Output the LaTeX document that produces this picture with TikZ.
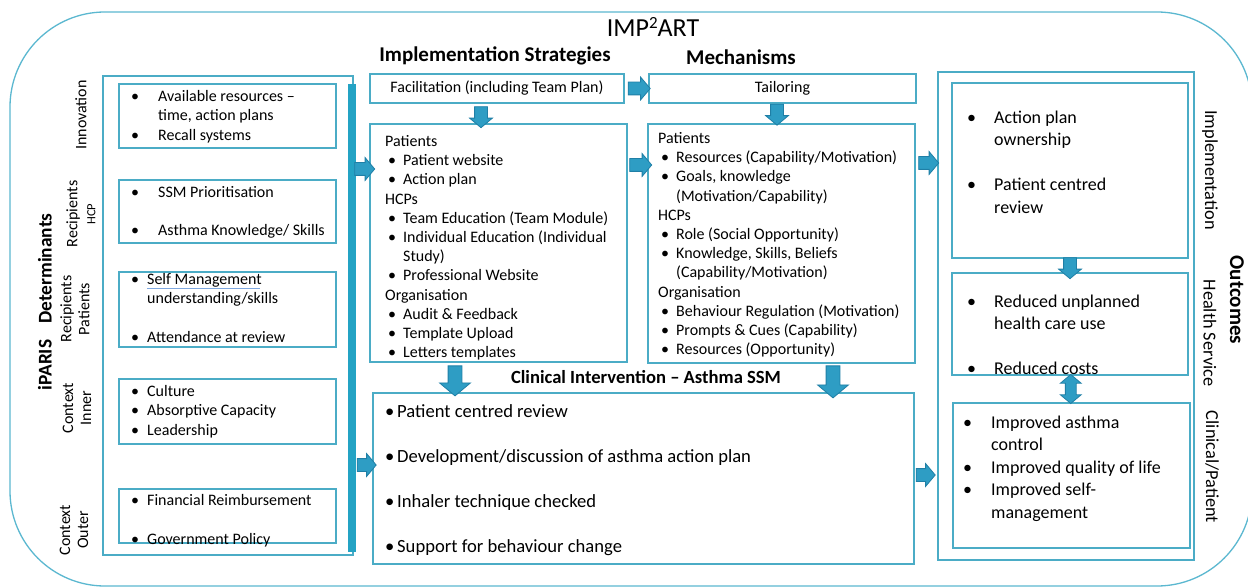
\documentclass[tikz,border=0pt]{standalone}
\usepackage{fontspec}
\setmainfont{Carlito}
\usetikzlibrary{shapes.arrows,fit,calc}
\definecolor{framec}{HTML}{5BB8D0}
\definecolor{boxc}{HTML}{4BACC6}
\definecolor{arrfill}{HTML}{2E9DC4}
\definecolor{arrdraw}{HTML}{1F7FA6}
\definecolor{barc}{HTML}{24A3C4}
\definecolor{spellc}{HTML}{7FA8E0}
\newcommand\bl[1]{\makebox[#1][l]{•}}
\newcommand\ibul{\hspace*{3pt}\makebox[15pt][l]{•}}
\begin{document}
\begin{tikzpicture}[x=1pt,y=-1pt,
  box/.style={draw=boxc,line width=1.3pt,inner sep=0pt},
  txt/.style={anchor=north west,align=left,inner sep=0pt,font=\fontsize{16}{19.2}\selectfont,execute at begin node={\rule{0pt}{0.75em}}},
  ctxt/.style={txt,font=\fontsize{18.6}{45}\selectfont},
  otxt/.style={txt,font=\fontsize{18}{22.5}\selectfont},
  head/.style={font=\bfseries\fontsize{21}{25}\selectfont,inner sep=0pt},
  lab/.style={rotate=90,align=center,inner sep=0pt,font=\fontsize{16}{18}\selectfont},
  rlab/.style={rotate=-90,align=center,inner sep=0pt,font=\fontsize{18.3}{21}\selectfont},
  barrow/.style={single arrow,draw=arrdraw,fill=arrfill,line width=0.8pt,inner sep=0pt,
    text height=6pt,text depth=6pt,text width=0pt,single arrow head extend=5pt,single arrow tip angle=100},
  bigarrow/.style={barrow,text height=6.5pt,text depth=6.5pt,single arrow head extend=8.5pt},
  darrow/.style={double arrow,draw=arrdraw,fill=arrfill,line width=0.8pt,inner sep=0pt,
    text height=5pt,text depth=5pt,text width=0pt,double arrow head extend=5pt,double arrow tip angle=100}
]
\useasboundingbox (0,0) rectangle (1248,588);
\fill[white] (0,0) rectangle (1248,588);
% outer frame
\draw[framec,line width=1.3pt,rounded corners=95pt] (10,12) rectangle (1252,586);
\node[font=\fontsize{26}{30}\selectfont,inner sep=0pt] (title) at (653,27) {IMP\raisebox{0.28em}{\fontsize{17}{20}\selectfont 2}ART};

% ---------- determinants ----------
\node[box,fit={(103,76) (353,555)}] (det) {};
\node[box,fit={(119,84) (336,148)}] (innov) {};
\node[box,fit={(119,180) (336,243)}] (rhcp) {};
\node[box,fit={(119,272) (336,347)}] (rpat) {};
\node[box,fit={(119,379) (336,444)}] (cinner) {};
\node[box,fit={(119,489) (336,543)}] (couter) {};
\node[fill=barc,inner sep=0pt,fit={(348,84) (356,552)}] (bar) {};

\node[txt] (tinnov) at (131,90.3) {\bl{27pt}Available resources –\\\hspace*{27pt}time, action plans\\\bl{27pt}Recall systems};
\node[txt] (trhcp) at (131,186.3) {\bl{27pt}SSM Prioritisation\\[19.2pt]\bl{27pt}Asthma Knowledge/ Skills};
\node[txt] (trpat) at (131,273.3) {\bl{16pt}Self Management\\\hspace*{16pt}understanding/skills\\[19.2pt]\bl{16pt}Attendance at review};
\draw[spellc,line width=1pt] (147,288) -- (260,288);
\node[txt] (tcinner) at (131,385.3) {\bl{16pt}Culture\\\bl{16pt}Absorptive Capacity\\\bl{16pt}Leadership};
\node[txt] (tcouter) at (131,494.3) {\bl{16pt}Financial Reimbursement\\[19.2pt]\bl{16pt}Government Policy};

\node[lab] (linnov) at (81,115) {Innovation};
\node[lab] (lrhcp) at (81,214) {Recipients\\{\fontsize{12.5}{15}\selectfont HCP}};
\node[lab] (lrpat) at (75,309) {Recipients\\Patients};
\node[lab] (lcinner) at (77,408) {Context\\Inner};
\node[lab] (lcouter) at (74,530) {Context\\Outer};
\node[lab,font=\bfseries\fontsize{19.4}{22}\selectfont] (ldet) at (45,302) {iPARIS\hspace{0.6em} Determinants};

% ---------- strategies & mechanisms ----------
\node[head] (hstrat) at (495,56) {Implementation Strategies};
\node[head] (hmech) at (741,57) {Mechanisms};
\node[box,fit={(370,74) (624,103)}] (facil) {};
\node[font=\fontsize{16}{19}\selectfont,inner sep=0pt] (tfacil) at (facil.center) {Facilitation (including Team Plan)};
\node[box,fit={(649,74) (916,103)}] (tail) {};
\node[font=\fontsize{16}{19}\selectfont,inner sep=0pt] (ttail) at (tail.center) {Tailoring};

\node[box,fit={(370,124) (627,362)}] (strat) {};
\node[txt] (tstrat) at (385,135.3) {Patients\\
\ibul Patient website\\
\ibul Action plan\\
HCPs\\
\ibul Team Education (Team Module)\\
\ibul Individual Education (Individual\\
\hspace*{18pt}Study)\\
\ibul Professional Website\\
Organisation\\
\ibul Audit \& Feedback\\
\ibul Template Upload\\
\ibul Letters templates};

\node[box,fit={(648,124) (915,363)}] (mech) {};
\node[txt] (tmech) at (658,132.3) {Patients\\
\ibul Resources (Capability/Motivation)\\
\ibul Goals, knowledge\\
\hspace*{18pt}(Motivation/Capability)\\
HCPs\\
\ibul Role (Social Opportunity)\\
\ibul Knowledge, Skills, Beliefs\\
\hspace*{18pt}(Capability/Motivation)\\
Organisation\\
\ibul Behaviour Regulation (Motivation)\\
\ibul Prompts \& Cues (Capability)\\
\ibul Resources (Opportunity)};

% ---------- clinical intervention ----------
\node[font=\bfseries\fontsize{18.6}{22}\selectfont,inner sep=0pt] (hclin) at (646,377) {Clinical Intervention – Asthma SSM};
\node[box,fit={(373,393) (914,564)}] (clin) {};
\node[ctxt] (tclin) at (385,404.2) {\bl{12pt}Patient centred review\\
\bl{12pt}Development/discussion of asthma action plan\\
\bl{12pt}Inhaler technique checked\\
\bl{12pt}Support for behaviour change};

% ---------- outcomes ----------
\node[box,fit={(938,72) (1194,560)}] (out) {};
\node[box,fit={(952,83) (1188,258)}] (oimpl) {};
\node[box,fit={(952,273) (1188,375)}] (ohealth) {};
\node[box,fit={(953,403) (1190,548)}] (oclin) {};
\node[otxt] (toimpl) at (967,110.4) {\bl{27pt}Action plan\\\hspace*{27pt}ownership\\[22.5pt]\bl{27pt}Patient centred\\\hspace*{27pt}review};
\node[otxt] (tohealth) at (967,294.4) {\bl{27pt}Reduced unplanned\\\hspace*{27pt}health care use\\[22.5pt]\bl{27pt}Reduced costs};
\node[otxt] (toclin) at (963,415.4) {\bl{28pt}Improved asthma\\\hspace*{28pt}control\\\bl{28pt}Improved quality of life\\\bl{28pt}Improved self-\\\hspace*{28pt}management};
\node[rlab] (limpl) at (1210,170) {Implementation};
\node[rlab] (lhealth) at (1210,333) {Health Service};
\node[rlab] (lclin) at (1212,467) {Clinical/Patient};
\node[rlab,font=\bfseries\fontsize{21}{24}\selectfont] (lout) at (1237,300) {Outcomes};

% ---------- block arrows ----------
\node[barrow,minimum height=20pt] (a1) at (362,169) {};
\node[barrow,minimum height=19pt] (a2) at (364,465) {};
\node[barrow,minimum height=22pt] (a3) at ($(facil.east)!.5!(tail.west)$) {};
\node[barrow,minimum height=21pt,rotate=-90] (a4) at (481,114.5) {};
\node[barrow,minimum height=21pt,rotate=-90] (a5) at (777,112) {};
\node[barrow,minimum height=22pt] (a6) at (638,165) {};
\node[barrow,minimum height=20pt] (a7) at (926,163) {};
\node[bigarrow,minimum height=30pt,rotate=-90] (a8) at (455,378) {};
\node[bigarrow,minimum height=32pt,rotate=-90] (a9) at (833,379) {};
\node[barrow,minimum height=19pt] (a10) at (923,475) {};
\node[barrow,minimum height=21pt,rotate=-90] (a11) at ($(oimpl.south)!.5!(ohealth.north)$) {};
\node[darrow,minimum height=29pt,rotate=90] (a12) at ($(ohealth.south)!.5!(oclin.north)$) {};
\end{tikzpicture}
\end{document}
